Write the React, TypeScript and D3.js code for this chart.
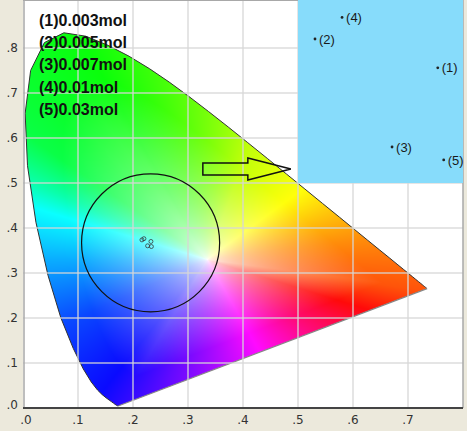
import React, { useMemo } from "react";
import * as d3 from "d3";

// CIE 1931 spectral locus (380–700 nm, 5 nm)
const locusX = [0.1741,0.1740,0.1738,0.1736,0.1733,0.1730,0.1726,0.1721,0.1714,0.1703,0.1689,0.1669,0.1644,0.1611,0.1566,0.1510,0.1440,0.1355,0.1241,0.1096,0.0913,0.0687,0.0454,0.0235,0.0082,0.0039,0.0139,0.0389,0.0743,0.1142,0.1547,0.1929,0.2296,0.2658,0.3016,0.3373,0.3731,0.4087,0.4441,0.4788,0.5125,0.5448,0.5752,0.6029,0.6270,0.6482,0.6658,0.6801,0.6915,0.7006,0.7079,0.7140,0.7190,0.7230,0.7260,0.7283,0.7300,0.7311,0.7320,0.7327,0.7334,0.7340,0.7344,0.7346,0.7347];
const locusY = [0.0050,0.0050,0.0049,0.0049,0.0048,0.0048,0.0048,0.0048,0.0051,0.0058,0.0069,0.0086,0.0109,0.0138,0.0177,0.0227,0.0297,0.0399,0.0578,0.0868,0.1327,0.2007,0.2950,0.4127,0.5384,0.6548,0.7502,0.8120,0.8338,0.8262,0.8059,0.7816,0.7543,0.7243,0.6923,0.6589,0.6245,0.5896,0.5547,0.5202,0.4866,0.4544,0.4242,0.3965,0.3725,0.3514,0.3340,0.3197,0.3083,0.2993,0.2920,0.2859,0.2809,0.2770,0.2740,0.2717,0.2700,0.2689,0.2680,0.2673,0.2666,0.2660,0.2656,0.2654,0.2653];

// colour field: hue by direction around the white point
const whitePoint = [0.335, 0.33];
const hueAngles = [-180, -151, -123, -104, -65, -30, -10, 9, 42, 73, 115, 140, 152, 160, 180];
const hueValues = [200, 225, 240, 262, 300, 345, 378, 392, 420, 435, 480, 495, 520, 540, 560];

const xTicks = [0, 0.1, 0.2, 0.3, 0.4, 0.5, 0.6, 0.7];
const yTicks = [0, 0.1, 0.2, 0.3, 0.4, 0.5, 0.6, 0.7, 0.8];
const tickLabels = (v: number) => "." + Math.round(v * 10);

const sampleIds = ["(1)", "(2)", "(3)", "(4)", "(5)"];
const legendValues = ["0.003mol", "0.005mol", "0.007mol", "0.01mol", "0.03mol"];
// relative position of each sample inside the zoom window (0..1)
const sampleFx = [0.847, 0.103, 0.57, 0.267, 0.883];
const sampleFy = [0.64, 0.80, 0.20, 0.92, 0.128];

const zoomWin = { x0: 0.214, x1: 0.236, y0: 0.356, y1: 0.378 };
const insetBox = { x0: 0.5, x1: 0.8, y0: 0.5, y1: 0.91 };
const insetContent = { y1: 0.9 };

const circleCenter = [0.232, 0.367];
const circleRadius = 0.1255; // in x units
const arrowFrom = [0.327, 0.531];
const arrowTo = [0.487, 0.531];

const W = 467, H = 431;
const x = d3.scaleLinear().domain([0, 0.8]).range([23, 463]);
const y = d3.scaleLinear().domain([0, 0.9]).range([408, 3]);

function hsv(h: number, s: number, v: number): [number, number, number] {
  h = ((h % 360) + 360) % 360;
  const c = v * s, hp = h / 60, xx = c * (1 - Math.abs((hp % 2) - 1));
  let r = 0, g = 0, b = 0;
  if (hp < 1) [r, g, b] = [c, xx, 0];
  else if (hp < 2) [r, g, b] = [xx, c, 0];
  else if (hp < 3) [r, g, b] = [0, c, xx];
  else if (hp < 4) [r, g, b] = [0, xx, c];
  else if (hp < 5) [r, g, b] = [xx, 0, c];
  else [r, g, b] = [c, 0, xx];
  const m = v - c;
  return [r + m, g + m, b + m];
}

function makeImage(): string {
  const x0 = 23, x1 = 463, y0 = 0, y1 = 410;
  const w = x1 - x0, h = y1 - y0;
  const c = document.createElement("canvas");
  c.width = w; c.height = h;
  const ctx = c.getContext("2d")!;
  const img = ctx.createImageData(w, h);
  const hueScale = d3.scaleLinear().domain(hueAngles).range(hueValues);
  const [wx, wy] = whitePoint;
  const n = locusX.length;
  const N = 1440;
  const dmax = new Float64Array(N);
  for (let k = 0; k < N; k++) {
    const a = (k / N) * 2 * Math.PI - Math.PI;
    const dx = Math.cos(a), dy = Math.sin(a);
    let best = Infinity;
    for (let e = 0; e < n; e++) {
      const ax = locusX[e], ay = locusY[e];
      const bx = locusX[(e + 1) % n], by = locusY[(e + 1) % n];
      const ex = bx - ax, ey = by - ay;
      const den = dx * ey - dy * ex;
      if (Math.abs(den) < 1e-12) continue;
      const t = ((ax - wx) * ey - (ay - wy) * ex) / den;
      const u = ((ax - wx) * dy - (ay - wy) * dx) / den;
      if (t > 0 && u >= 0 && u <= 1 && t < best) best = t;
    }
    dmax[k] = best === Infinity ? 0.5 : best;
  }
  for (let j = 0; j < h; j++) {
    const cy = y.invert(j + y0 + 0.5);
    for (let i = 0; i < w; i++) {
      const cx = x.invert(i + x0 + 0.5);
      const dx = cx - wx, dy = cy - wy;
      const a = Math.atan2(dy, dx);
      const d = Math.hypot(dx, dy);
      const k = Math.min(N - 1, Math.max(0, Math.round(((a + Math.PI) / (2 * Math.PI)) * N)));
      const ratio = Math.min(1, d / dmax[k]);
      const s = Math.min(0.96, Math.pow(ratio, 0.6) * 1.1);
      const [r, g, b] = hsv(hueScale((a * 180) / Math.PI), s, 1);
      const p = (j * w + i) * 4;
      img.data[p] = Math.round(255 * r);
      img.data[p + 1] = Math.round(255 * g);
      img.data[p + 2] = Math.round(255 * b);
      img.data[p + 3] = 255;
    }
  }
  ctx.putImageData(img, 0, 0);
  return c.toDataURL();
}

export default function App() {
  const href = useMemo(() => makeImage(), []);
  const locus = locusX.map((v, i) => [x(v), y(locusY[i])] as [number, number]);
  const locusPath = d3.line()(locus)! + "Z";
  const purple = d3.line()([locus[locus.length - 1], locus[0]])!;
  const spectral = d3.line()(locus)!;

  const samplesX = sampleFx.map((f) => zoomWin.x0 + f * (zoomWin.x1 - zoomWin.x0));
  const samplesY = sampleFy.map((f) => zoomWin.y0 + f * (zoomWin.y1 - zoomWin.y0));
  const insetX = sampleFx.map((f) => insetBox.x0 + f * (insetBox.x1 - insetBox.x0));
  const insetY = sampleFy.map((f) => insetBox.y0 + f * (insetContent.y1 - insetBox.y0));

  const rPx = x(circleCenter[0] + circleRadius) - x(circleCenter[0]);

  const ax0 = x(arrowFrom[0]), ax1 = x(arrowTo[0]), ay = y(arrowFrom[1]);
  const headLen = 43, shaftH = 6, headH = 11;
  const arrowPts: [number, number][] = [
    [ax0, ay - shaftH], [ax1 - headLen, ay - shaftH], [ax1 - headLen, ay - headH],
    [ax1, ay], [ax1 - headLen, ay + headH], [ax1 - headLen, ay + shaftH], [ax0, ay + shaftH],
  ];

  const plotTop = 0;
  return (
    <div style={{ position: "fixed", left: 0, top: 0 }}>
      <svg width={W} height={H} style={{ display: "block", background: "#ece9dc" }}>
        <defs>
          <clipPath id="locus"><path d={locusPath} /></clipPath>
        </defs>
        <rect x={x(0)} y={plotTop} width={x(0.8) - x(0)} height={y(0) - plotTop} fill="#ffffff" />
        <image href={href} x={23} y={0} width={440} height={410} clipPath="url(#locus)" preserveAspectRatio="none" />
        <path d={spectral} fill="none" stroke="#333" strokeWidth={1} />
        <path d={purple} fill="none" stroke="#888" strokeWidth={1.2} />
        {/* grid */}
        {xTicks.slice(1).map((t) => (
          <line key={"gx" + t} x1={x(t)} x2={x(t)} y1={plotTop} y2={y(0)} stroke="#d6d6d6" strokeOpacity={0.85} strokeWidth={1.5} />
        ))}
        {yTicks.slice(1).map((t) => (
          <line key={"gy" + t} x1={x(0)} x2={x(0.8)} y1={y(t)} y2={y(t)} stroke="#d6d6d6" strokeOpacity={0.85} strokeWidth={1.5} />
        ))}
        {/* frame */}
        <line x1={x(0) + 1} x2={x(0) + 1} y1={plotTop} y2={y(0)} stroke="#a8a8a8" strokeWidth={1.5} />
        <line x1={x(0.8)} x2={x(0.8)} y1={plotTop} y2={y(0)} stroke="#a8a8a8" strokeWidth={1.5} />
        <line x1={x(0)} x2={x(0.8)} y1={plotTop + 0.5} y2={plotTop + 0.5} stroke="#a8a8a8" strokeWidth={1} />
        <line x1={x(0)} x2={x(0.8)} y1={y(0)} y2={y(0)} stroke="#444" strokeWidth={2.2} />
        {/* circle */}
        <circle cx={x(circleCenter[0])} cy={y(circleCenter[1])} r={rPx} fill="none" stroke="#111" strokeWidth={1.2} />
        {/* cluster (labels too small to read in the reference: drawn as ring marks) */}
        {samplesX.map((v, i) => (
          <circle key={"c" + i} cx={x(v)} cy={y(samplesY[i])} r={2} fill="none" stroke="#333" strokeOpacity={0.75} strokeWidth={1} />
        ))}
        {/* arrow */}
        <polygon points={arrowPts.map((p) => p.join(",")).join(" ")} fill="none" stroke="#111" strokeWidth={1.5} />
        {/* inset */}
        <rect x={x(insetBox.x0)} y={plotTop} width={x(insetBox.x1) - x(insetBox.x0)} height={y(insetBox.y0) - plotTop} fill="#87dcfb" />
        {insetX.map((v, i) => (
          <g key={"i" + i}>
            <circle cx={x(v)} cy={y(insetY[i])} r={1.4} fill="#222" />
            <text x={x(v) + 4} y={y(insetY[i])} dy="0.35em" fontFamily="'Liberation Sans', Arial, sans-serif" fontSize={13} fill="#1a1a1a">{sampleIds[i]}</text>
          </g>
        ))}
        {/* legend */}
        {legendValues.map((v, i) => (
          <text key={"l" + i} x={39} y={26 + i * 22.2} fontFamily="'Liberation Sans', Arial, sans-serif" fontSize={16} fill="#111" fontWeight={700}>
            {sampleIds[i] + v}
          </text>
        ))}
        {/* tick labels */}
        {xTicks.map((t) => (
          <text key={"tx" + t} x={x(t) + (t === 0 ? 3 : 0)} y={424} textAnchor="middle" fontFamily="Tahoma, 'DejaVu Sans', sans-serif" fontSize={12} fill="#333">{tickLabels(t)}</text>
        ))}
        {yTicks.map((t) => (
          <text key={"ty" + t} x={18} y={y(t)} dy={t === 0 ? "0.1em" : "0.35em"} textAnchor="end" fontFamily="Tahoma, 'DejaVu Sans', sans-serif" fontSize={12} fill="#333">{tickLabels(t)}</text>
        ))}
      </svg>
    </div>
  );
}
